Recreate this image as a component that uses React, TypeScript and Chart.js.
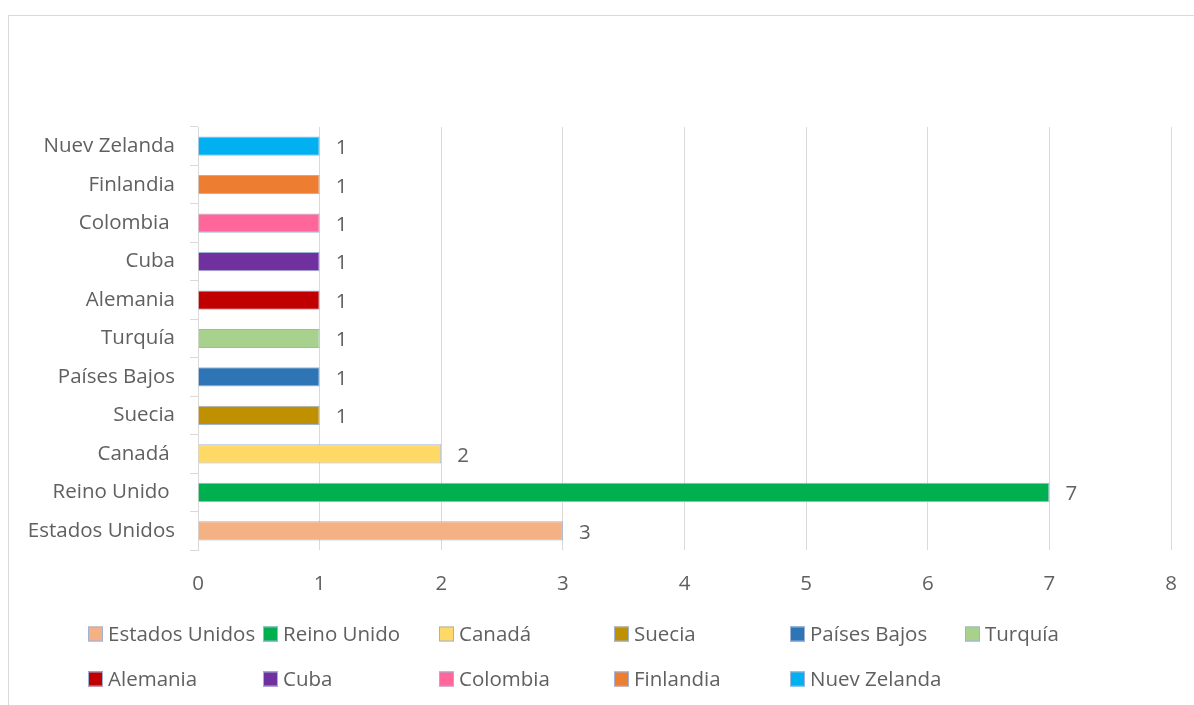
import React, { useEffect, useRef } from "react";
import { Chart, registerables } from "chart.js";

Chart.register(...registerables);

const categories = [
  "Estados Unidos",
  "Reino Unido ",
  "Canadá ",
  "Suecia",
  "Países Bajos",
  "Turquía",
  "Alemania",
  "Cuba",
  "Colombia ",
  "Finlandia",
  "Nuev Zelanda",
];
const counts = [3, 7, 2, 1, 1, 1, 1, 1, 1, 1, 1];
const barColors = [
  "#F4B183",
  "#00B050",
  "#FFD966",
  "#BF9000",
  "#2E75B6",
  "#A9D18E",
  "#C00000",
  "#7030A0",
  "#FF6699",
  "#ED7D31",
  "#00B0F0",
];

const FONT = "'Open Sans', sans-serif";
const FSIZE = 20.5;
const TEXT = "#606060";
const GRID = "#d9d9d9";
const OUTLINE = "#9fb3d6";

const valueLabels = {
  id: "valueLabels",
  afterDatasetsDraw(chart: any) {
    const ctx = chart.ctx;
    const meta = chart.getDatasetMeta(0);
    ctx.save();
    ctx.font = `${FSIZE}px ${FONT}`;
    ctx.fillStyle = TEXT;
    ctx.textAlign = "left";
    ctx.textBaseline = "middle";
    meta.data.forEach((bar: any, i: number) => {
      ctx.fillText(String(counts[i]), bar.x + 16, bar.y + 2);
    });
    ctx.restore();
  },
};

const gridLegend = {
  id: "gridLegend",
  afterDraw(chart: any) {
    const ctx = chart.ctx;
    const cols = 6;
    const colW = 175.4;
    const startX = 79;
    const rowY = [618, 663];
    const box = 15;
    ctx.save();
    ctx.font = `${FSIZE}px ${FONT}`;
    ctx.textBaseline = "middle";
    ctx.textAlign = "left";
    categories.forEach((name, i) => {
      const r = Math.floor(i / cols);
      const c = i % cols;
      const x = Math.round(startX + c * colW);
      const y = rowY[r];
      ctx.fillStyle = barColors[i];
      ctx.fillRect(x, y - box / 2, box, box);
      ctx.strokeStyle = OUTLINE;
      ctx.lineWidth = 1;
      ctx.strokeRect(x + 0.5, y - box / 2 + 0.5, box - 1, box - 1);
      ctx.fillStyle = TEXT;
      ctx.fillText(name.trim(), x + box + 5, y + 1);
    });
    ctx.restore();
  },
};

export default function App() {
  const ref = useRef<HTMLCanvasElement | null>(null);

  useEffect(() => {
    if (!ref.current) return;
    const chart = new Chart(ref.current, {
      type: "bar",
      data: {
        labels: categories,
        datasets: [
          {
            data: counts,
            backgroundColor: barColors,
            borderColor: OUTLINE,
            borderWidth: 1,
            barPercentage: 0.5,
            categoryPercentage: 1,
          },
        ],
      },
      options: {
        indexAxis: "y",
        responsive: false,
        animation: false,
        devicePixelRatio: 1,
        layout: { padding: { left: 0, right: 23, top: 111, bottom: 105 } },
        plugins: {
          legend: { display: false },
          tooltip: { enabled: false },
        },
        scales: {
          x: {
            min: 0,
            max: 8,
            ticks: {
              stepSize: 1,
              color: TEXT,
              font: { family: FONT, size: FSIZE },
              padding: 0,
            },
            grid: {
              color: GRID,
              lineWidth: 1,
              drawTicks: true,
              tickLength: 22,
              tickColor: "rgba(0,0,0,0)",
            },
            border: { display: false },
            afterFit: (axis: any) => {
              axis.height = 50;
            },
          },
          y: {
            reverse: true,
            ticks: {
              color: TEXT,
              font: { family: FONT, size: FSIZE },
              padding: 15,
            },
            grid: {
              drawOnChartArea: false,
              drawTicks: true,
              tickLength: 8,
              color: GRID,
              offset: true,
            },
            border: { display: true, color: GRID, width: 1 },
            afterFit: (axis: any) => {
              axis.width = 189;
            },
          },
        },
      },
      plugins: [valueLabels, gridLegend],
    });
    return () => chart.destroy();
  }, []);

  return (
    <div style={{ position: "fixed", inset: 0, overflow: "hidden", background: "#fff" }}>
      <div
        style={{
          position: "absolute",
          left: 8,
          top: 15,
          width: 1200,
          height: 720,
          borderTop: `1px solid ${GRID}`,
          borderLeft: `1px solid ${GRID}`,
          boxSizing: "border-box",
        }}
      />
      <canvas
        ref={ref}
        width={1185}
        height={689}
        style={{ position: "absolute", left: 9, top: 16, width: 1185, height: 689 }}
      />
    </div>
  );
}
